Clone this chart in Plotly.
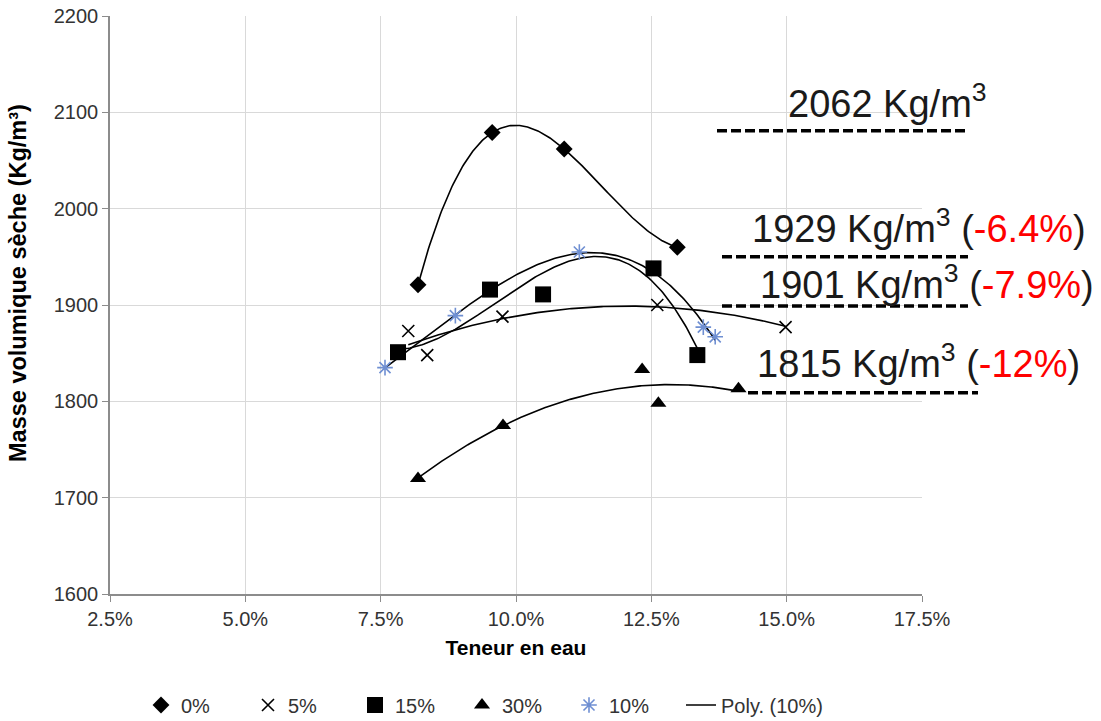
import numpy as np
import plotly.graph_objects as go

# ---- data ----
x_0 = [0.0819, 0.0956, 0.1089, 0.1298]
y_0 = [1921, 2079, 2062, 1960]
x_5 = [0.0801, 0.0836, 0.0975, 0.1261, 0.1498]
y_5 = [1873, 1848, 1888, 1900, 1877]
x_15 = [0.0782, 0.0952, 0.1050, 0.1254, 0.1335]
y_15 = [1851, 1916, 1911, 1938, 1848]
x_30 = [0.0819, 0.0976, 0.1233, 0.1263, 0.1411]
y_30 = [1720, 1775, 1833, 1798, 1813]
x_10 = [0.0758, 0.0888, 0.1117, 0.1346, 0.1368]
y_10 = [1835, 1889, 1955, 1877, 1867]

series_names = ["0%", "5%", "15%", "30%", "10%"]
poly_degree = {"0%": 3, "5%": 2, "15%": 3, "30%": 2, "10%": 3}

ref_values = ["2062", "1929", "1901", "1815"]
ref_changes = [None, "-6.4%", "-7.9%", "-12%"]
ref_line_y = [2081, 1950, 1899, 1809]

Y_RANGE = [1600, 2200]
X_RANGE = [0.025, 0.175]

FONT = "Arial, Liberation Sans, sans-serif"
BLUE = "#6f8fd2"

data = {"0%": (x_0, y_0), "5%": (x_5, y_5), "15%": (x_15, y_15),
        "30%": (x_30, y_30), "10%": (x_10, y_10)}
markers = {
    "0%": dict(symbol="diamond", size=13, color="black"),
    "5%": dict(symbol="x-thin-open", size=12, color="black", line=dict(width=1.6, color="black")),
    "15%": dict(symbol="square", size=16, color="black"),
    "30%": dict(symbol="triangle-up", size=14, color="black"),
    "10%": dict(symbol="asterisk-open", size=13, color=BLUE, line=dict(width=1.6, color=BLUE)),
}

fig = go.Figure()

# trendlines (polynomial fits of each series)
for name in series_names:
    xs, ys = data[name]
    c = np.polyfit(xs, ys, poly_degree[name])
    xx = np.linspace(min(xs), max(xs), 200)
    fig.add_trace(go.Scatter(
        x=xx, y=np.polyval(c, xx), mode="lines",
        line=dict(color="black", width=1.6),
        name="Poly. (" + name + ")", showlegend=False, hoverinfo="skip",
    ))

for i, name in enumerate(series_names):
    xs, ys = data[name]
    fig.add_trace(go.Scatter(x=xs, y=ys, mode="markers", name=name,
                             marker=markers[name], legend="legend"))

# legend entry for the 10% poly line (separate legend box so its text is not clipped)
fig.add_trace(go.Scatter(x=[None], y=[None], mode="lines", name="Poly. (10%)",
                         line=dict(color="black", width=1.6), legend="legend2"))

def ypaper(v):
    return (v - Y_RANGE[0]) / (Y_RANGE[1] - Y_RANGE[0])

def xpaper(px):
    return (px - 110) / 812.0

# dashed reference lines
line_px = [(717, 965), (722, 968), (722, 968), (748, 978)]
for (x0, x1), v in zip(line_px, ref_line_y):
    fig.add_shape(type="line", xref="paper", yref="paper",
                  x0=xpaper(x0), x1=xpaper(x1), y0=ypaper(v), y1=ypaper(v),
                  line=dict(color="black", width=3.5, dash="10px,4px"))

# labels
label_left_px = [786, 750, 758, 755]
label_y = [2112, 1982, 1924, 1842]
for val, chg, lx, ly in zip(ref_values, ref_changes, label_left_px, label_y):
    txt = val + " Kg/m<sup>3</sup>"
    if chg:
        txt += " (<span style='color:#ff0000'>" + chg + "</span>)"
    fig.add_annotation(text=txt, xref="paper", yref="y", x=xpaper(lx), y=ly,
                       xanchor="left", yanchor="middle", showarrow=False,
                       font=dict(family=FONT, size=38, color="#1a1a1a"))

# y axis title as annotation
fig.add_annotation(text="<b>Masse volumique sèche (Kg/m³)</b>", xref="paper", yref="paper",
                   x=xpaper(18), y=(594 - 283) / 578.0, textangle=-90,
                   xanchor="center", yanchor="middle", showarrow=False,
                   font=dict(family=FONT, size=23.5, color="black"))

legend_font = dict(family=FONT, size=20, color="#333333")
fig.update_layout(
    width=1101, height=721,
    margin=dict(l=110, r=179, t=16, b=127, autoexpand=False),
    paper_bgcolor="white", plot_bgcolor="white",
    font=dict(family=FONT, size=20, color="#333333"),
    showlegend=True,
    legend=dict(orientation="h", xref="container", yref="container",
                x=141 / 1101, y=1 - 705 / 721, xanchor="left", yanchor="middle",
                entrywidth=62, entrywidthmode="pixels",
                font=legend_font, traceorder="normal", bgcolor="rgba(0,0,0,0)"),
    legend2=dict(orientation="h", xref="container", yref="container",
                 x=681 / 1101, y=1 - 705 / 721, xanchor="left", yanchor="middle",
                 font=legend_font, bgcolor="rgba(0,0,0,0)"),
    xaxis=dict(range=X_RANGE, dtick=0.025, tick0=0.025, tickformat=".1%",
               showgrid=True, gridcolor="#d9d9d9", gridwidth=1.2,
               showline=True, linecolor="#8c8c8c", linewidth=1.5,
               ticks="outside", ticklen=6, tickcolor="#8c8c8c",
               zeroline=False, tickfont=dict(size=20, color="#333333"),
               title=dict(text="<b>Teneur en eau</b>", font=dict(size=21, color="black"), standoff=12)),
    yaxis=dict(range=Y_RANGE, dtick=100,
               showgrid=True, gridcolor="#d9d9d9", gridwidth=1.2,
               showline=True, linecolor="#8c8c8c", linewidth=1.5,
               ticks="outside", ticklen=6, tickcolor="#8c8c8c",
               zeroline=False, tickfont=dict(size=20, color="#333333")),
)

fig.write_html("out.html")
